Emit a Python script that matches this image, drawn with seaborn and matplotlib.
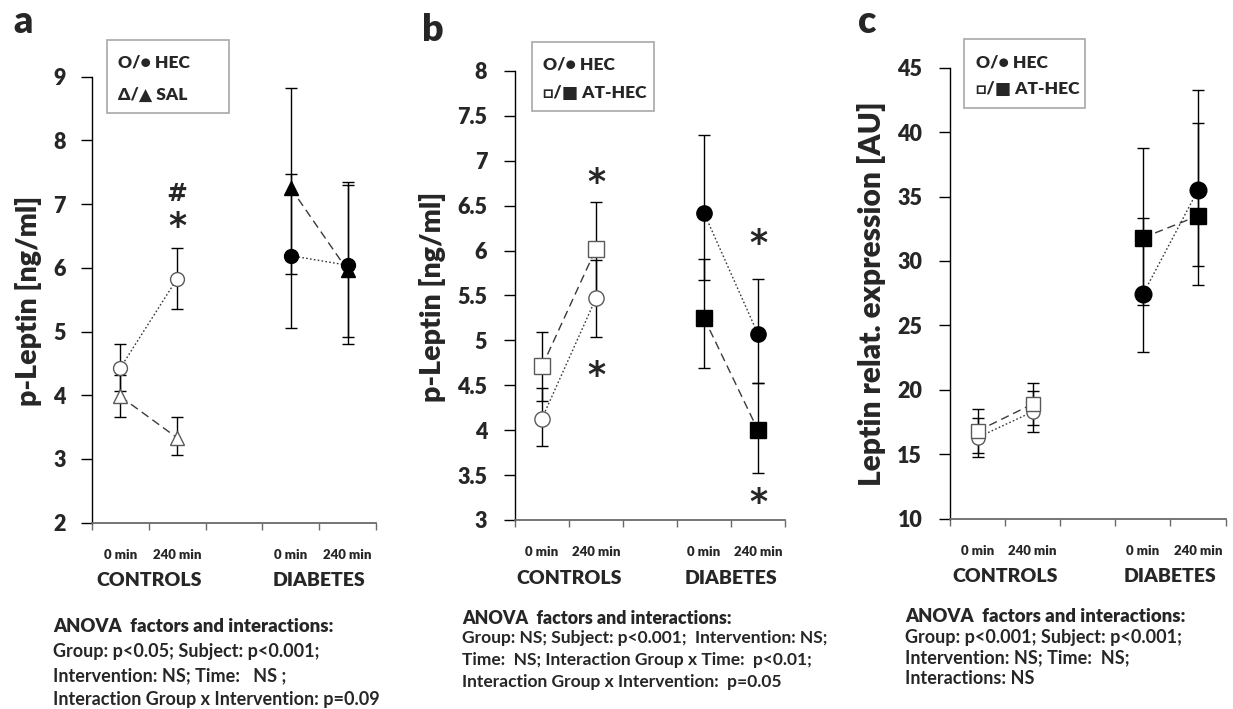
import matplotlib
matplotlib.use("Agg")
import matplotlib.pyplot as plt
from matplotlib.patches import Rectangle
from matplotlib.ticker import FixedLocator, FuncFormatter
import pandas as pd
import seaborn as sns

# ---------------------------------------------------------------- data
time_labels = ["0 min", "240 min", "0 min", "240 min"]
positions = [0, 1, 3, 4]
groups = ["CONTROLS", "CONTROLS", "DIABETES", "DIABETES"]
group_names = ["CONTROLS", "DIABETES"]

# a: plasma leptin, HEC vs saline
a_hec = [4.43, 5.83, 6.19, 6.04]
a_hec_plus = [0.37, 0.48, 1.29, 1.31]
a_hec_minus = [0.37, 0.48, 1.14, 1.23]
a_sal = [3.98, 3.33, 7.25, 5.96]
a_sal_plus = [0.33, 0.33, 1.57, 1.34]
a_sal_minus = [0.32, 0.27, 1.35, 1.05]

# b: plasma leptin, HEC vs AT-HEC
b_hec = [4.13, 5.47, 6.42, 5.07]
b_hec_plus = [0.34, 0.43, 0.87, 0.61]
b_hec_minus = [0.31, 0.43, 0.75, 0.54]
b_at = [4.71, 6.02, 5.25, 4.00]
b_at_plus = [0.38, 0.52, 0.66, 0.53]
b_at_minus = [0.38, 0.52, 0.56, 0.48]

# c: adipose leptin expression, HEC vs AT-HEC
c_hec = [16.3, 18.3, 27.4, 35.5]
c_hec_plus = [1.5, 1.6, 5.9, 5.2]
c_hec_minus = [1.5, 1.6, 4.5, 5.9]
c_at = [16.8, 18.9, 31.8, 33.5]
c_at_plus = [1.7, 1.6, 7.0, 9.8]
c_at_minus = [1.7, 1.6, 5.2, 5.4]

anova_a = ["ANOVA  factors and interactions:",
           "Group: p<0.05; Subject: p<0.001;",
           "Intervention: NS; Time:   NS ;",
           "Interaction Group x Intervention: p=0.09"]
anova_b = ["ANOVA  factors and interactions:",
           "Group: NS; Subject: p<0.001;  Intervention: NS;",
           "Time:  NS; Interaction Group x Time:  p<0.01;",
           "Interaction Group x Intervention:  p=0.05"]
anova_c = ["ANOVA  factors and interactions:",
           "Group: p<0.001; Subject: p<0.001;",
           "Intervention: NS; Time:  NS;",
           "Interactions: NS"]

# ---------------------------------------------------------------- style
sns.set_style("white")
plt.rcParams["font.family"] = ["Lato", "DejaVu Sans"]

W, H = 1233, 709
fig = plt.figure(figsize=(W / 100, H / 100), dpi=100)

DOTTED = (0, (1.2, 1.6))
DASHED = (0, (6, 3.5))
LINE_COLOR = "#3a3a3a"
OPEN_EDGE = "#5a5a5a"
PX = 0.72  # points per pixel at 100 dpi


def fx(px):
    return px / W


def fy(py):
    return 1 - py / H


def make_axes(left, right, top, bottom):
    return fig.add_axes([fx(left), fy(bottom), (right - left) / W, (bottom - top) / H])


def draw_series(ax, values, plus, minus, marker, ms_ctrl, ms_diab, dash):
    df = pd.DataFrame({"pos": positions, "value": values, "group": groups,
                       "plus": plus, "minus": minus})
    ax.errorbar(df["pos"], df["value"], yerr=[df["minus"], df["plus"]], fmt="none",
                ecolor="black", elinewidth=1, capsize=4, capthick=1, zorder=1.5)
    for g, sub in df.groupby("group"):
        is_ctrl = g == "CONTROLS"
        sns.lineplot(data=sub, x="pos", y="value", ax=ax, color=LINE_COLOR, lw=1,
                     linestyle=dash, marker=marker,
                     markersize=ms_ctrl if is_ctrl else ms_diab,
                     markerfacecolor="white" if is_ctrl else "black",
                     markeredgecolor=OPEN_EDGE if is_ctrl else "black",
                     markeredgewidth=1, errorbar=None, legend=False, zorder=3)


def style_axes(ax, ylim, yticks, ypad):
    ax.set_xlim(-0.5, 4.5)
    ax.set_ylim(*ylim)
    for s in ("top", "right"):
        ax.spines[s].set_visible(False)
    ax.spines["left"].set_color("black")
    ax.spines["left"].set_linewidth(1)
    ax.spines["bottom"].set_color("#6a6a6a")
    ax.spines["bottom"].set_linewidth(1.3)
    ax.set_yticks(yticks, labels=[f"{v:g}" for v in yticks],
                  fontsize=15.5, fontweight="heavy")
    ax.tick_params(axis="y", left=True, direction="out", length=8, width=1,
                   pad=ypad, color="black")
    ax.xaxis.set_major_locator(FixedLocator([-0.5, 0.5, 1.5, 2.5, 3.5, 4.5]))
    ax.xaxis.set_major_formatter(FuncFormatter(lambda v, _: ""))
    ax.xaxis.set_minor_locator(FixedLocator(positions))
    ax.set_xticklabels(time_labels, minor=True, fontsize=9.5, fontweight="heavy")
    ax.tick_params(axis="x", which="major", bottom=True, direction="out", length=5,
                   width=1, color="#6a6a6a")
    ax.tick_params(axis="x", which="minor", bottom=True, length=0, pad=19)
    ax.set_xlabel("")
    ax.set_ylabel("")
    for name, xc in zip(group_names, [0.5, 3.5]):
        ax.annotate(name, xy=(xc, 0), xycoords=("data", "axes fraction"),
                    xytext=(0, -58 * PX), textcoords="offset points",
                    ha="center", va="center", fontsize=14, fontweight="heavy")


def star(ax, x, y, sym="*", size=25):
    # the asterisk ink sits high in the em box, so anchor on the baseline
    lift = 0.58 if sym == "*" else 0.36
    ax.annotate(sym, xy=(x, y), xycoords="data", xytext=(0, -lift * size),
                textcoords="offset points", ha="center", va="baseline",
                fontsize=size, fontweight="bold", family="DejaVu Sans", zorder=5)


def legend_box(left, top, right, bottom, lines, text_x, ys):
    fig.patches.append(Rectangle((fx(left), fy(bottom)), (right - left) / W,
                                 (bottom - top) / H, transform=fig.transFigure,
                                 facecolor="white", edgecolor="#a8a8a8", lw=1.2))
    for txt, yy in zip(lines, ys):
        fig.text(fx(text_x), fy(yy), txt, ha="left", va="center", fontsize=12.5,
                 fontweight="heavy", family=["Lato", "DejaVu Sans"])


def anova_block(x, ys, lines, size):
    for i, (txt, yy) in enumerate(zip(lines, ys)):
        fig.text(fx(x), fy(yy), txt, ha="left", va="center",
                 fontsize=size + (0.3 if i == 0 else 0),
                 fontweight="heavy" if i == 0 else "bold")


# ---------------------------------------------------------------- panel a
ax_a = make_axes(92, 376, 76.7, 522.6)
draw_series(ax_a, a_sal, a_sal_plus, a_sal_minus, "^", 10, 10, DASHED)
draw_series(ax_a, a_hec, a_hec_plus, a_hec_minus, "o", 10, 10, DOTTED)
style_axes(ax_a, (2, 9), list(range(2, 10)), 11)
star(ax_a, 1, 7.19, "#", 18)
star(ax_a, 1, 6.80, "*", 25)
fig.text(fx(29), fy(301), "p-Leptin [ng/ml]", rotation=90, ha="center", va="center",
         fontsize=20.5, fontweight="heavy")
fig.text(fx(13), fy(33), "a", ha="left", va="baseline", fontsize=27, fontweight="heavy")
legend_box(107, 40, 229, 113, ["O/\u25CF HEC", "\u0394/\u25B2 SAL"], 118, [62, 95])
anova_block(53, [626, 651, 676, 700], anova_a, 13)

# ---------------------------------------------------------------- panel b
ax_b = make_axes(515, 785, 71, 520)
draw_series(ax_b, b_hec, b_hec_plus, b_hec_minus, "o", 11, 11, DOTTED)
draw_series(ax_b, b_at, b_at_plus, b_at_minus, "s", 11, 11, DASHED)
style_axes(ax_b, (3, 8), [3 + 0.5 * i for i in range(11)], 12)
star(ax_b, 1, 6.87)
star(ax_b, 1, 4.72)
star(ax_b, 4, 6.19)
star(ax_b, 4, 3.30)
fig.text(fx(432), fy(297), "p-Leptin [ng/ml]", rotation=90, ha="center", va="center",
         fontsize=20.5, fontweight="heavy")
fig.text(fx(422), fy(41), "b", ha="left", va="baseline", fontsize=27, fontweight="heavy")
legend_box(532, 42, 654, 111, ["O/\u25CF HEC", "\u25A1/\u25A0 AT-HEC"], 543, [64, 93])
anova_block(462, [618, 638, 660, 682], anova_b, 12.5)

# ---------------------------------------------------------------- panel c
ax_c = make_axes(950, 1225.5, 67.7, 518.7)
draw_series(ax_c, c_hec, c_hec_plus, c_hec_minus, "o", 9.5, 12, DOTTED)
draw_series(ax_c, c_at, c_at_plus, c_at_minus, "s", 9.5, 12, DASHED)
style_axes(ax_c, (10, 45), list(range(10, 50, 5)), 12)
fig.text(fx(872), fy(294), "Leptin relat. expression [AU]", rotation=90, ha="center",
         va="center", fontsize=21.5, fontweight="heavy")
fig.text(fx(858), fy(33), "c", ha="left", va="baseline", fontsize=27, fontweight="heavy")
legend_box(964, 39, 1085, 108, ["O/\u25CF HEC", "\u25A1/\u25A0 AT-HEC"], 976, [62, 89])
anova_block(905, [617, 638, 658, 679], anova_c, 13)

fig.savefig("out.png", dpi=100, facecolor="white")
